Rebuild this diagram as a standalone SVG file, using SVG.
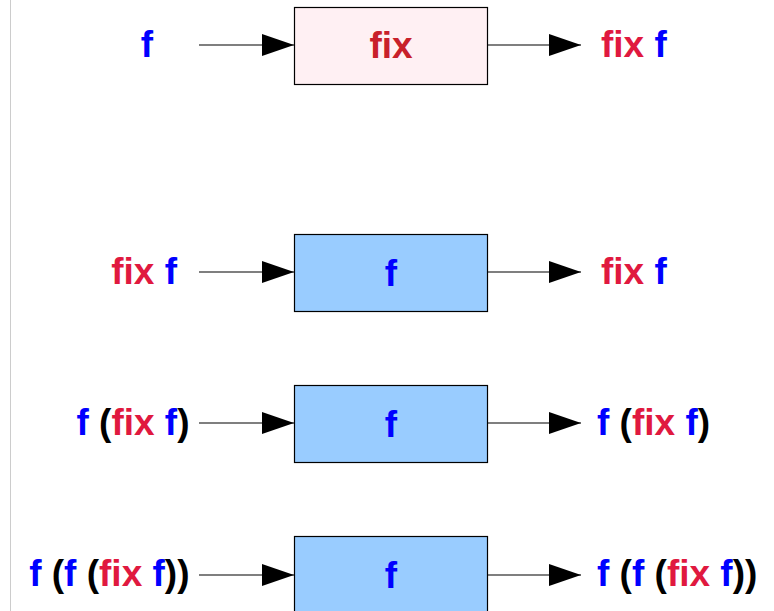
<svg xmlns="http://www.w3.org/2000/svg" width="774" height="611" viewBox="0 0 774 611">
<defs>
<style>
text{font-family:"Liberation Sans",Arial,sans-serif;font-weight:bold;font-size:37px}
.b{fill:#0000ff}.r{fill:#e0193f}.k{fill:#000}.dr{fill:#c8202a}
.box{stroke:#000;stroke-width:1.2}
.pink{fill:#fff0f3}.blue{fill:#99ccff}
.ln{stroke:#555;stroke-width:1.6;fill:none}
</style>
<marker id="ah" markerWidth="32" markerHeight="22" refX="32" refY="11" orient="auto" markerUnits="userSpaceOnUse">
<path d="M0,0 L32,11 L0,22 Z" fill="#000"/>
</marker>
</defs>
<rect width="774" height="611" fill="#fff"/>
<line x1="10.5" y1="0" x2="10.5" y2="611" stroke="#cccccc" stroke-width="1"/>
<g id="connectors">
<line class="ln" x1="199" y1="45" x2="294" y2="45" marker-end="url(#ah)"/>
<line class="ln" x1="487" y1="45" x2="581" y2="45" marker-end="url(#ah)"/>
<line class="ln" x1="199" y1="272" x2="294" y2="272" marker-end="url(#ah)"/>
<line class="ln" x1="487" y1="272" x2="581" y2="272" marker-end="url(#ah)"/>
<line class="ln" x1="199" y1="423" x2="294" y2="423" marker-end="url(#ah)"/>
<line class="ln" x1="487" y1="423" x2="581" y2="423" marker-end="url(#ah)"/>
<line class="ln" x1="199" y1="575" x2="294" y2="575" marker-end="url(#ah)"/>
<line class="ln" x1="487" y1="575" x2="581" y2="575" marker-end="url(#ah)"/>
</g>
<g id="node-fix">
<rect class="box pink" x="294.5" y="7.5" width="193" height="77"/>
<text class="dr" x="391" y="58" text-anchor="middle">fix</text>
</g>
<g id="node-f1">
<rect class="box blue" x="294.5" y="234.5" width="193" height="77"/>
<text class="b" x="391" y="286" text-anchor="middle">f</text>
</g>
<g id="node-f2">
<rect class="box blue" x="294.5" y="385.5" width="193" height="77"/>
<text class="b" x="391" y="437" text-anchor="middle">f</text>
</g>
<g id="node-f3">
<rect class="box blue" x="294.5" y="536.5" width="193" height="77"/>
<text class="b" x="391" y="588" text-anchor="middle">f</text>
</g>
<g id="labels">
<text class="b" x="147" y="57" text-anchor="middle">f</text>
<text x="601" y="57"><tspan class="r">fix </tspan><tspan class="b">f</tspan></text>
<text x="177" y="284" text-anchor="end"><tspan class="r">fix </tspan><tspan class="b">f</tspan></text>
<text x="601" y="284"><tspan class="r">fix </tspan><tspan class="b">f</tspan></text>
<text x="189.5" y="435" text-anchor="end"><tspan class="b">f </tspan><tspan class="k">(</tspan><tspan class="r">fix </tspan><tspan class="b">f</tspan><tspan class="k">)</tspan></text>
<text x="597" y="435"><tspan class="b">f </tspan><tspan class="k">(</tspan><tspan class="r">fix </tspan><tspan class="b">f</tspan><tspan class="k">)</tspan></text>
<text x="189.5" y="586" text-anchor="end"><tspan class="b">f </tspan><tspan class="k">(</tspan><tspan class="b">f </tspan><tspan class="k">(</tspan><tspan class="r">fix </tspan><tspan class="b">f</tspan><tspan class="k">))</tspan></text>
<text x="597" y="586"><tspan class="b">f </tspan><tspan class="k">(</tspan><tspan class="b">f </tspan><tspan class="k">(</tspan><tspan class="r">fix </tspan><tspan class="b">f</tspan><tspan class="k">))</tspan></text>
</g>
</svg>
